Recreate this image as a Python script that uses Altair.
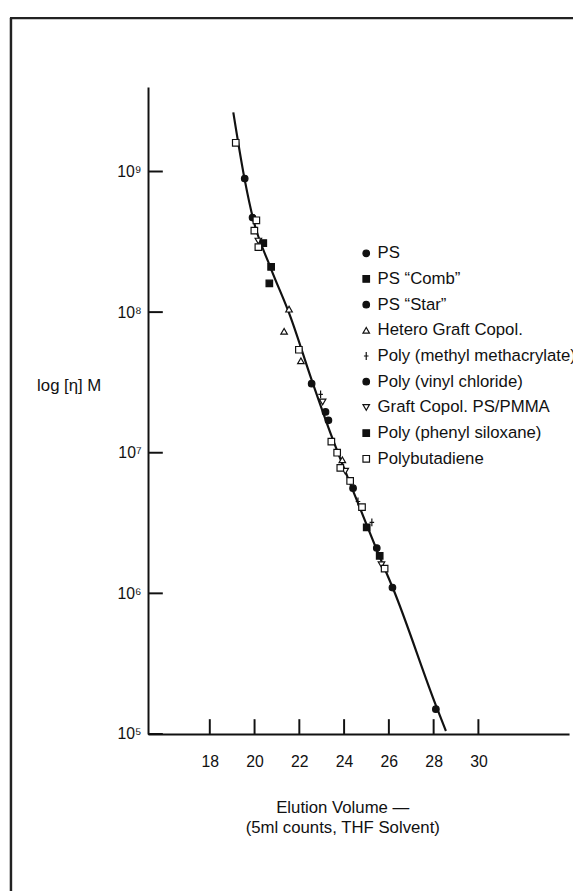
import altair as alt
import pandas as pd

# ---------------- data ----------------
series_names = ["PS", "PS “Comb”", "PS “Star”", "Hetero Graft Copol.",
                "Poly (methyl methacrylate)", "Poly (vinyl chloride)",
                "Graft Copol. PS/PMMA", "Poly (phenyl siloxane)", "Polybutadiene"]
series_shapes = ["circle", "square", "circle", "triangle-up",
                 "M0,-1.2V1.2M-0.7,0H0.7", "circle", "triangle-down", "square", "square"]
series_fills = ["#111", "#111", "#111", "white", "#111", "#111", "white", "#111", "white"]

# elution volume (counts) and [eta]M for each series
ps_v = [19.56, 22.55, 23.17, 26.16, 28.10]
ps_M = [8.9e8, 3.1e7, 1.95e7, 1.1e6, 1.5e5]
comb_v = [20.74, 20.66]
comb_M = [2.1e8, 1.6e8]
star_v = [19.91, 25.46]
star_M = [4.7e8, 2.1e6]
hetero_v = [21.54, 21.32, 22.07, 23.92]
hetero_M = [1.05e8, 7.3e7, 4.5e7, 8.9e6]
pmma_v = [22.95, 24.62, 25.24]
pmma_M = [2.6e7, 4.5e6, 3.2e6]
pvc_v = [23.30, 24.40]
pvc_M = [1.7e7, 5.6e6]
graft_v = [20.17, 23.04, 24.05, 25.67]
graft_M = [3.2e8, 2.3e7, 7.4e6, 1.6e6]
siloxane_v = [20.39, 25.01, 25.59]
siloxane_M = [3.1e8, 2.95e6, 1.85e6]
pbd_v = [19.16, 20.08, 19.99, 20.17, 21.98, 23.43, 23.69, 23.83, 24.27, 24.80, 25.81]
pbd_M = [1.6e9, 4.5e8, 3.8e8, 2.9e8, 5.4e7, 1.2e7, 1.0e7, 7.8e6, 6.3e6, 4.1e6, 1.5e6]

# calibration curve
curve_v = [19.05, 19.55, 19.95, 20.70, 21.60, 22.55, 23.45, 24.50, 25.60, 26.20, 28.10, 28.55]
curve_M = [2.63e9, 8.9e8, 4.5e8, 2.1e8, 9.3e7, 3.3e7, 1.3e7, 4.9e6, 1.8e6, 1.07e6, 1.6e5, 1.05e5]

x_ticks = [18, 20, 22, 24, 26, 28, 30]
y_ticks = [1e5, 1e6, 1e7, 1e8, 1e9]
y_tick_labels = ["10⁵", "10⁶", "10⁷", "10⁸", "10⁹"]

x_title = ["Elution Volume —", "(5ml counts, THF Solvent)"]
y_title = "log [η] M"

# ---------------- tables ----------------
all_v = [ps_v, comb_v, star_v, hetero_v, pmma_v, pvc_v, graft_v, siloxane_v, pbd_v]
all_M = [ps_M, comb_M, star_M, hetero_M, pmma_M, pvc_M, graft_M, siloxane_M, pbd_M]
rows = []
for name, vs, ms in zip(series_names, all_v, all_M):
    for v, m in zip(vs, ms):
        rows.append({"series": name, "v": v, "M": m})
pts = pd.DataFrame(rows)
curve = pd.DataFrame({"v": curve_v, "M": curve_M})

W, H = 427, 656
FONT = "Liberation Sans"
INK = "#111"

xscale = alt.Scale(domain=[15.24, 34.05], nice=False, zero=False)
yscale = alt.Scale(type="log", domain=[1e5, 10 ** 9.6], nice=False)

label_list = "[" + ",".join("'" + s + "'" for s in y_tick_labels) + "]"

x_axis = alt.Axis(
    values=x_ticks, ticks=False, grid=False, domainColor=INK, domainWidth=2,
    labelFont=FONT, labelFontSize=16, labelColor=INK, labelPadding=20,
    labelFlush=False, labelOverlap=False,
    title=x_title, titleFont=FONT, titleFontSize=17, titleFontWeight="normal",
    titleColor=INK, titleX=197, titleY=67, titleAlign="center",
    titleBaseline="top", titleLineHeight=20)
y_axis = alt.Axis(
    values=y_ticks, ticks=False, grid=False, domainColor=INK, domainWidth=2,
    labelFont=FONT, labelFontSize=16, labelColor=INK, labelPadding=7,
    labelExpr=label_list + "[round(log(datum.value)/LN10) - 5]",
    labelOverlap=False, labelFlush=False,
    title=y_title, titleFont=FONT, titleFontSize=17, titleFontWeight="normal",
    titleColor=INK, titleAngle=0, titleX=-113, titleY=303,
    titleAlign="left", titleBaseline="middle")

X = alt.X("v:Q", scale=xscale, axis=x_axis)
Y = alt.Y("M:Q", scale=yscale, axis=y_axis)

line = alt.Chart(curve).mark_line(color=INK, strokeWidth=2.2, interpolate="monotone").encode(x=X, y=Y)

leg = alt.Legend(title=None)
points = alt.Chart(pts).mark_point(filled=True, strokeWidth=1.2, size=44, opacity=1).encode(
    x=X, y=Y,
    shape=alt.Shape("series:N", scale=alt.Scale(domain=series_names, range=series_shapes), legend=leg),
    fill=alt.Fill("series:N", scale=alt.Scale(domain=series_names, range=series_fills), legend=leg),
    stroke=alt.Stroke("series:N", scale=alt.Scale(domain=series_names, range=[INK] * len(series_names)),
                      legend=leg),
)

ytick = alt.Chart(pd.DataFrame({"M": y_ticks})).mark_rule(color=INK, strokeWidth=2).encode(
    y=Y, x=alt.value(0), x2=alt.value(15))
xtick = alt.Chart(pd.DataFrame({"v": x_ticks})).mark_rule(color=INK, strokeWidth=2).encode(
    x=X, y=alt.value(H), y2=alt.value(H - 15))

frame_v = alt.Chart(alt.Data(values=[{}])).mark_rule(color="#222", strokeWidth=2.5).encode(
    x=alt.value(-139), y=alt.value(-70), y2=alt.value(H + 170))
frame_h = alt.Chart(alt.Data(values=[{}])).mark_rule(color="#222", strokeWidth=2.5).encode(
    y=alt.value(-70), x=alt.value(-140), x2=alt.value(W + 20))

chart = alt.layer(line, ytick, xtick, points, frame_v, frame_h).properties(
    width=W, height=H,
    padding={"left": 142, "top": 74, "right": 4, "bottom": 153},
    autosize=alt.AutoSizeParams(type="none"),
    background="white",
).configure_view(stroke=None).configure_legend(
    orient="none", legendX=212.8, legendY=160, padding=0,
    labelFont=FONT, labelFontSize=17, labelColor=INK, labelLimit=1000,
    labelOffset=3, rowPadding=8.05, symbolSize=44,
    symbolStrokeWidth=1.2,
)

chart.save("out.html", embed_options={"renderer": "svg", "actions": False})
